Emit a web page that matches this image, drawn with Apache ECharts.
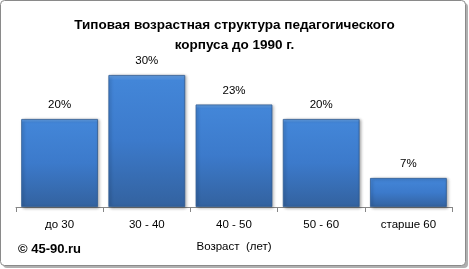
<!DOCTYPE html>
<html><head><meta charset="utf-8">
<script src="https://cdn.jsdelivr.net/npm/echarts@6/dist/echarts.min.js"></script>
<style>html,body{margin:0;padding:0;background:#fff}#c{width:469px;height:269px}</style>
</head><body><div id="c"></div>
<script>
const categories = ["до 30", "30 - 40", "40 - 50", "50 - 60", "старше 60"];
const values = [20, 30, 23.3, 20, 6.6];
const valueLabels = ["20%", "30%", "23%", "20%", "7%"];
const titleText = "Типовая возрастная структура педагогического\nкорпуса до 1990 г.";
const axisName = "Возраст  (лет)";
const copyright = "© 45-90.ru";

const chart = echarts.init(document.getElementById('c'), null, {renderer: 'canvas'});
const font = "'Liberation Sans', Arial, sans-serif";
chart.setOption({
  animation: false,
  textStyle: {fontFamily: font},
  graphic: [
    {type: 'rect', shape: {x: 3, y: 3, width: 465, height: 265, r: 4}, style: {fill: '#b0b0b0'}, z: -2},
    {type: 'rect', shape: {x: 0.5, y: 0.5, width: 465, height: 265, r: 4}, style: {fill: '#fff', stroke: '#8a8a8a', lineWidth: 1}, z: -1},
    {type: 'text', left: 18, top: 243, style: {text: copyright, font: "bold 13px " + font, fill: '#000'}}
  ],
  title: {
    text: titleText, left: 'center', top: 10,
    textStyle: {fontSize: 13.5, fontWeight: 'bold', color: '#000', lineHeight: 20, fontFamily: font}
  },
  grid: {left: 16, right: 17, top: 53, bottom: 62},
  xAxis: {
    type: 'category', data: categories,
    name: axisName, nameLocation: 'middle', nameGap: 34,
    nameTextStyle: {fontSize: 11.5, color: '#000', fontFamily: font},
    axisLine: {lineStyle: {color: '#868686'}},
    axisTick: {show: true, length: 5, alignWithLabel: false, lineStyle: {color: '#868686'}},
    axisLabel: {fontSize: 11.5, color: '#000', margin: 12, fontFamily: font}
  },
  yAxis: {type: 'value', min: 0, max: 35, show: false, splitLine: {show: false}},
  series: [{
    type: 'bar', data: values, barCategoryGap: '12%',
    itemStyle: {
      color: {type: 'linear', x: 0, y: 0, x2: 0, y2: 1, colorStops: [
        {offset: 0, color: '#6aa6ec'}, {offset: 0.04, color: '#4386d8'},
        {offset: 0.5, color: '#3c7acb'}, {offset: 1, color: '#33629f'}]},
      borderColor: '#2f5a92', borderWidth: 0.8,
      shadowColor: 'rgba(0,0,0,0.35)', shadowBlur: 3, shadowOffsetX: 1.5, shadowOffsetY: 1
    },
    label: {
      show: true, position: 'top', distance: 8, fontSize: 11.5, color: '#000', fontFamily: font,
      formatter: p => valueLabels[p.dataIndex]
    }
  }]
});
</script></body></html>
